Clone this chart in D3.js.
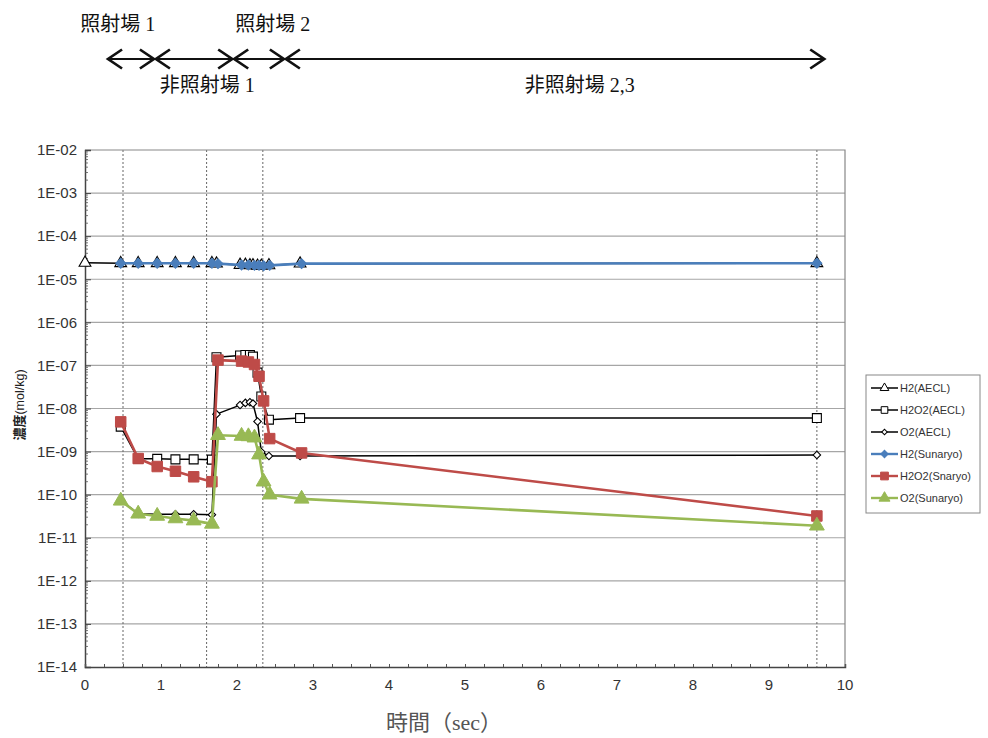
<!DOCTYPE html>
<html>
<head>
<meta charset="utf-8">
<script src="https://cdn.jsdelivr.net/npm/d3@7"></script>
<style>
  html, body { margin: 0; padding: 0; background: #fff; }
  svg { display: block; }
</style>
</head>
<body>
<svg id="chart" width="988" height="738"></svg>
<script>
// ---- data ----
const timeSunaryo = [0.47, 0.70, 0.95, 1.19, 1.43, 1.67, 1.75, 2.06, 2.15, 2.23, 2.29, 2.35, 2.43, 2.85, 9.63];
const h2Sunaryo   = [2.35e-5, 2.35e-5, 2.35e-5, 2.35e-5, 2.35e-5, 2.35e-5, 2.3e-5, 2.15e-5, 2.15e-5, 2.1e-5, 2.1e-5, 2.05e-5, 2.1e-5, 2.3e-5, 2.35e-5];
const h2o2Sunaryo = [4.9e-9, 6.9e-10, 4.5e-10, 3.5e-10, 2.6e-10, 2.0e-10, 1.33e-7, 1.26e-7, 1.2e-7, 1.05e-7, 5.6e-8, 1.5e-8, 2.0e-9, 9.3e-10, 3.2e-11];
const o2Sunaryo   = [7.2e-11, 3.6e-11, 3.2e-11, 2.8e-11, 2.5e-11, 2.1e-11, 2.4e-9, 2.3e-9, 2.25e-9, 2.1e-9, 8.5e-10, 2.0e-10, 1.0e-10, 8.0e-11, 1.9e-11];

const timeAECL    = [0.47, 0.70, 0.95, 1.19, 1.43, 1.67, 1.73, 2.04, 2.11, 2.17, 2.21, 2.27, 2.32, 2.42, 2.83, 9.63];
const timeH2AECL  = [0, 0.47, 0.70, 0.95, 1.19, 1.43, 1.67, 1.73, 2.04, 2.11, 2.17, 2.21, 2.27, 2.32, 2.42, 2.83, 9.63];
const h2AECL      = [2.4e-5, 2.35e-5, 2.35e-5, 2.35e-5, 2.35e-5, 2.35e-5, 2.35e-5, 2.3e-5, 2.15e-5, 2.15e-5, 2.1e-5, 2.1e-5, 2.05e-5, 2.05e-5, 2.1e-5, 2.3e-5, 2.35e-5];
const h2o2AECL    = [3.8e-9, 6.8e-10, 6.8e-10, 6.6e-10, 6.6e-10, 6.5e-10, 1.55e-7, 1.7e-7, 1.75e-7, 1.75e-7, 1.6e-7, 6.8e-8, 1.9e-8, 5.5e-9, 6.0e-9, 6.0e-9];
const o2AECL      = [7.5e-11, 3.6e-11, 3.5e-11, 3.5e-11, 3.5e-11, 3.4e-11, 7.4e-9, 1.2e-8, 1.35e-8, 1.4e-8, 1.3e-8, 5.0e-9, 9.8e-10, 7.9e-10, 7.9e-10, 8.3e-10];

const seriesNames = ["H2(AECL)", "H2O2(AECL)", "O2(AECL)", "H2(Sunaryo)", "H2O2(Snaryo)", "O2(Sunaryo)"];

const yTickValues = [1e-14, 1e-13, 1e-12, 1e-11, 1e-10, 1e-9, 1e-8, 1e-7, 1e-6, 1e-5, 1e-4, 1e-3, 1e-2];
const yTickLabels = ["1E-14", "1E-13", "1E-12", "1E-11", "1E-10", "1E-09", "1E-08", "1E-07", "1E-06", "1E-05", "1E-04", "1E-03", "1E-02"];
const xTickValues = [0, 1, 2, 3, 4, 5, 6, 7, 8, 9, 10];
const xTickLabels = ["0", "1", "2", "3", "4", "5", "6", "7", "8", "9", "10"];

// boundaries between irradiation / non-irradiation zones (sec)
const zoneLines = [0.5, 1.6, 2.34, 9.63];

// zone annotation above the chart (positions in seconds on the time axis)
const zoneNames  = ["照射場 1", "非照射場 1", "照射場 2", "非照射場 2,3"];
const zoneStart  = [0.29, 0.92, 1.95, 2.63];
const zoneEnd    = [0.92, 1.95, 2.63, 9.74];
const zoneLabelX = [0.43, 1.61, 2.47, 6.51];
const zoneAbove  = [true, false, true, false];

// ---- layout ----
const svg = d3.select("#chart");
const plot = { left: 85, right: 845, top: 150, bottom: 667 };

const x = d3.scaleLinear().domain([0, 10]).range([plot.left, plot.right]);
const y = d3.scaleLog().domain([1e-14, 1e-2]).range([plot.bottom, plot.top]);

const latin = "'Liberation Sans Narrow', 'Liberation Sans', Arial, sans-serif";
const cjk = "'Liberation Serif', 'Noto Sans CJK JP', serif";

// plot background
svg.append("rect")
  .attr("x", plot.left).attr("y", plot.top)
  .attr("width", plot.right - plot.left).attr("height", plot.bottom - plot.top)
  .attr("fill", "#fff");

// horizontal gridlines at each decade
svg.append("g").selectAll("line")
  .data(yTickValues.slice(1, -1))
  .join("line")
  .attr("x1", plot.left).attr("x2", plot.right)
  .attr("y1", d => y(d)).attr("y2", d => y(d))
  .attr("stroke", "#a6a6a6").attr("stroke-width", 1.2);

// dotted zone boundaries
svg.append("g").selectAll("line")
  .data(zoneLines)
  .join("line")
  .attr("x1", d => x(d)).attr("x2", d => x(d))
  .attr("y1", plot.top).attr("y2", plot.bottom)
  .attr("stroke", "#666").attr("stroke-width", 1)
  .attr("stroke-dasharray", "2,2");

// frame: top and right border
svg.append("path")
  .attr("d", `M${plot.left},${plot.top}H${plot.right}V${plot.bottom}`)
  .attr("fill", "none").attr("stroke", "#888").attr("stroke-width", 1.2);

// y axis (log) with inside ticks
const yAxis = d3.axisRight(y)
  .tickValues(yTickValues)
  .tickSize(6)
  .tickFormat("");
const gy = svg.append("g").attr("transform", `translate(${plot.left},0)`).call(yAxis);
gy.select(".domain").attr("stroke", "#444").attr("stroke-width", 1.5);
gy.selectAll(".tick line").attr("stroke", "#444");

// minor log ticks
const minor = [];
yTickValues.slice(0, -1).forEach(dec => { for (let k = 2; k <= 9; k++) minor.push(dec * k); });
svg.append("g").selectAll("line")
  .data(minor)
  .join("line")
  .attr("x1", plot.left).attr("x2", plot.left + 3)
  .attr("y1", d => y(d)).attr("y2", d => y(d))
  .attr("stroke", "#555").attr("stroke-width", 0.8);

// y tick labels
svg.append("g").selectAll("text")
  .data(yTickValues)
  .join("text")
  .attr("x", plot.left - 8)
  .attr("y", d => y(d))
  .attr("dy", "0.35em")
  .attr("text-anchor", "end")
  .attr("font-family", latin)
  .attr("font-size", 15)
  .attr("fill", "#333")
  .text((d, i) => yTickLabels[i]);

// x axis with inside ticks every 0.25 s
const xMinor = d3.range(0, 10.001, 0.25);
const gx = svg.append("g").attr("transform", `translate(0,${plot.bottom})`)
  .call(d3.axisTop(x).tickValues(xMinor).tickSize(3).tickFormat(""));
gx.select(".domain").attr("stroke", "#444").attr("stroke-width", 1.5);
gx.selectAll(".tick line").attr("stroke", "#555");

svg.append("g").selectAll("text")
  .data(xTickValues)
  .join("text")
  .attr("x", d => x(d))
  .attr("y", plot.bottom + 23)
  .attr("text-anchor", "middle")
  .attr("font-family", latin)
  .attr("font-size", 15)
  .attr("fill", "#333")
  .text((d, i) => xTickLabels[i]);

// axis titles
svg.append("text")
  .attr("x", 444).attr("y", 730)
  .attr("text-anchor", "middle")
  .attr("font-family", cjk)
  .attr("font-size", 22)
  .attr("fill", "#555")
  .text("時間（sec）");

const yTitle = svg.append("text")
  .attr("transform", `translate(24,${405}) rotate(-90)`)
  .attr("text-anchor", "middle")
  .attr("font-family", "'Noto Sans CJK JP', sans-serif")
  .attr("fill", "#222");
yTitle.append("tspan").attr("font-size", 13).attr("font-weight", "bold").text("濃度");
yTitle.append("tspan").attr("font-size", 12.5).attr("font-family", latin).text("(mol/kg)");

// ---- series ----
const blue = "#4a7ebb", red = "#be4b48", green = "#98b954";

const series = [
  { name: seriesNames[0], t: timeH2AECL, v: h2AECL,   color: "#000", width: 1.5, shape: "triangle", fill: "#fff", size: 60 },
  { name: seriesNames[1], t: timeAECL,   v: h2o2AECL, color: "#000", width: 1.5, shape: "square",   fill: "#fff", size: 80 },
  { name: seriesNames[2], t: timeAECL,   v: o2AECL,   color: "#000", width: 1.5, shape: "diamond",  fill: "#fff", size: 28 },
  { name: seriesNames[3], t: timeSunaryo, v: h2Sunaryo,   color: blue,  width: 2.6, shape: "diamond",  fill: blue,  size: 50 },
  { name: seriesNames[4], t: timeSunaryo, v: h2o2Sunaryo, color: red,   width: 2.6, shape: "square",   fill: red,   size: 110 },
  { name: seriesNames[5], t: timeSunaryo, v: o2Sunaryo,   color: green, width: 2.6, shape: "triangle", fill: green, size: 95 }
];

function symbolPath(shape, size) {
  if (shape === "triangle") return d3.symbol(d3.symbolTriangle, size)();
  return d3.symbol(d3.symbolSquare, size)();
}
function symbolRotate(shape) { return shape === "diamond" ? " rotate(45)" : ""; }

const line = d3.line().x(d => x(d[0])).y(d => y(d[1]));

series.forEach(s => {
  const pts = s.t.map((t, i) => [t, s.v[i]]);
  const g = svg.append("g");
  g.append("path")
    .attr("d", line(pts))
    .attr("fill", "none")
    .attr("stroke", s.color)
    .attr("stroke-width", s.width)
    .attr("stroke-linejoin", "round");
  g.selectAll("path.m")
    .data(pts)
    .join("path")
    .attr("class", "m")
    .attr("d", symbolPath(s.shape, s.size))
    .attr("transform", d => `translate(${x(d[0])},${y(d[1])})` + symbolRotate(s.shape))
    .attr("fill", s.fill)
    .attr("stroke", s.color)
    .attr("stroke-width", s.color === "#000" ? 1.1 : 1);
});

// ---- legend ----
const legend = svg.append("g").attr("transform", "translate(866,375)");
legend.append("rect")
  .attr("width", 114).attr("height", 138)
  .attr("fill", "#fff").attr("stroke", "#888").attr("stroke-width", 1);
series.forEach((s, i) => {
  const gy0 = 13 + i * 22;
  const row = legend.append("g").attr("transform", `translate(0,${gy0})`);
  row.append("line").attr("x1", 5).attr("x2", 32).attr("y1", 0).attr("y2", 0)
    .attr("stroke", s.color).attr("stroke-width", s.color === "#000" ? 1.5 : 2.4);
  row.append("path")
    .attr("d", symbolPath(s.shape, s.size * 0.55))
    .attr("transform", "translate(18.5,0)" + symbolRotate(s.shape))
    .attr("fill", s.fill).attr("stroke", s.color).attr("stroke-width", 1);
  row.append("text")
    .attr("x", 34).attr("y", 0).attr("dy", "0.35em")
    .attr("font-family", "'Liberation Sans', Arial, sans-serif")
    .attr("font-size", 11)
    .attr("fill", "#333")
    .text(s.name);
});

// ---- zone annotation (arrows above chart) ----
const arrowY = 59, headW = 14, headH = 9.5;
const ann = svg.append("g");
zoneNames.forEach((name, i) => {
  const a = x(zoneStart[i]) + 1, b = x(zoneEnd[i]) - 1;
  ann.append("line").attr("x1", a).attr("x2", b).attr("y1", arrowY).attr("y2", arrowY)
    .attr("stroke", "#111").attr("stroke-width", 2.2);
  ann.append("path")
    .attr("d", `M${a + headW},${arrowY - headH}L${a},${arrowY}L${a + headW},${arrowY + headH}`)
    .attr("fill", "none").attr("stroke", "#111").attr("stroke-width", 2.7);
  ann.append("path")
    .attr("d", `M${b - headW},${arrowY - headH}L${b},${arrowY}L${b - headW},${arrowY + headH}`)
    .attr("fill", "none").attr("stroke", "#111").attr("stroke-width", 2.7);
  ann.append("text")
    .attr("x", x(zoneLabelX[i]))
    .attr("y", zoneAbove[i] ? 31 : 92)
    .attr("text-anchor", "middle")
    .attr("font-family", cjk)
    .attr("font-size", 20)
    .attr("fill", "#111")
    .text(name);
});
</script>
</body>
</html>
